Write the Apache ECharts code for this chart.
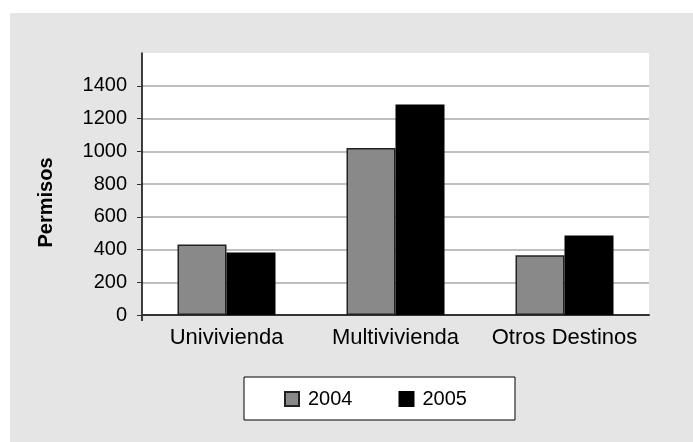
<!DOCTYPE html>
<html>
<head>
<meta charset="utf-8">
<script src="https://cdn.jsdelivr.net/npm/echarts@6/dist/echarts.min.js"></script>
<style>
  body { margin: 0; }
  #wrap { position: relative; width: 693px; height: 442px; background: #fff; }
  #bg { position: absolute; left: 10px; top: 13px; right: 0; bottom: 0; background: #e5e5e5; }
  #chart { position: absolute; left: 0; top: 0; width: 693px; height: 442px; }
</style>
</head>
<body>
<div id="wrap">
  <div id="bg"></div>
  <div id="chart"></div>
</div>
<script>
  const categories = ['Univivienda', 'Multivivienda', 'Otros Destinos'];
  const seriesNames = ['2004', '2005'];
  const values2004 = [430, 1020, 365];
  const values2005 = [382, 1285, 485];
  const yTicks = { min: 0, max: 1600, interval: 200 };

  const font = "'Liberation Sans', Arial, sans-serif";
  const gridLeft = 142;
  const myChart = echarts.init(document.getElementById('chart'));
  myChart.setOption({
    animation: false,
    grid: {
      left: gridLeft,
      right: 44,
      top: 53,
      bottom: 127,
      show: true,
      backgroundColor: '#fff',
      borderWidth: 0,
    },
    legend: {
      left: 244,
      top: 377,
      padding: [12, 48, 11, 40],
      itemGap: 46,
      itemWidth: 14,
      itemHeight: 14,
      icon: 'rect',
      backgroundColor: '#fff',
      borderColor: '#000',
      borderWidth: 1,
      borderRadius: 0,
      textStyle: { fontFamily: font, fontSize: 20, color: '#000', padding: [0, 0, 0, 4] },
      data: seriesNames,
    },
    xAxis: {
      type: 'category',
      data: categories,
      axisLine: { lineStyle: { color: '#333', width: 2 } },
      axisTick: { show: false },
      axisLabel: { fontFamily: font, fontSize: 22, color: '#000', margin: 12, interval: 0 },
    },
    yAxis: {
      type: 'value',
      min: yTicks.min,
      max: yTicks.max,
      interval: yTicks.interval,
      axisLine: { show: true, lineStyle: { color: '#000', width: 1.5 } },
      axisTick: { show: true, length: 5, lineStyle: { color: '#333', width: 1 } },
      axisLabel: {
        fontFamily: font,
        fontSize: 20,
        color: '#000',
        margin: 15,
        showMaxLabel: false,
        formatter: function (v) {
          return String(v);
        },
      },
      splitLine: {
        show: true,
        showMaxLine: false,
        showMinLine: false,
        lineStyle: { color: '#aaa', width: 1.5 },
      },
    },
    graphic: [
      {
        type: 'text',
        x: 46.5,
        y: 202.5,
        rotation: Math.PI / 2,
        style: {
          text: 'Permisos',
          font: 'bold 20px ' + font,
          fill: '#000',
          align: 'center',
          verticalAlign: 'middle',
        },
      },
    ],
    series: [
      {
        name: seriesNames[0],
        type: 'bar',
        data: values2004,
        barWidth: 49,
        barGap: '0%',
        itemStyle: { color: '#898989', borderColor: '#222', borderWidth: 1.5 },
      },
      {
        name: seriesNames[1],
        type: 'bar',
        data: values2005,
        barWidth: 49,
        itemStyle: { color: '#000', borderColor: '#000', borderWidth: 1.5 },
      },
    ],
  });

  // y axis line runs a little past the origin, like a tick below the x axis
  const y0 = myChart.convertToPixel({ yAxisIndex: 0 }, 0);
  myChart.setOption({
    graphic: [
      {
        type: 'text',
        x: 46.5,
        y: 202.5,
        rotation: Math.PI / 2,
        style: {
          text: 'Permisos',
          font: 'bold 20px ' + font,
          fill: '#000',
          align: 'center',
          verticalAlign: 'middle',
        },
      },
      {
        type: 'line',
        shape: { x1: gridLeft, y1: y0, x2: gridLeft, y2: y0 + 6 },
        style: { stroke: '#000', lineWidth: 1.5 },
      },
    ],
  });
</script>
</body>
</html>
